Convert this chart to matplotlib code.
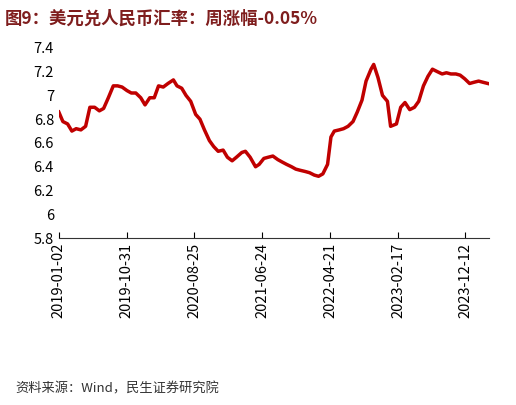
import matplotlib
matplotlib.use("Agg")
import matplotlib.pyplot as plt
import matplotlib.dates as mdates
import pandas as pd

plt.rcParams['font.family'] = ['Noto Sans CJK SC', 'DejaVu Sans']

dates = ["2019-01-02","2019-01-20","2019-02-10","2019-03-01","2019-03-20","2019-04-10","2019-05-01","2019-05-20","2019-06-10","2019-07-01","2019-07-20","2019-08-10","2019-09-01","2019-09-20","2019-10-10","2019-11-01","2019-11-20","2019-12-10","2020-01-01","2020-01-20","2020-02-10","2020-03-01","2020-03-20","2020-04-10","2020-05-01","2020-05-25","2020-06-10","2020-07-01","2020-07-20","2020-08-10","2020-09-01","2020-09-20","2020-10-10","2020-11-01","2020-11-20","2020-12-10","2021-01-01","2021-01-20","2021-02-10","2021-03-01","2021-03-25","2021-04-10","2021-05-01","2021-05-25","2021-06-10","2021-07-01","2021-07-20","2021-08-10","2021-09-01","2021-09-20","2021-10-10","2021-11-01","2021-11-20","2021-12-10","2022-01-01","2022-01-20","2022-02-10","2022-03-01","2022-03-20","2022-04-10","2022-04-25","2022-05-10","2022-06-01","2022-06-20","2022-07-10","2022-08-01","2022-08-20","2022-09-10","2022-09-28","2022-10-20","2022-11-01","2022-11-20","2022-12-10","2023-01-01","2023-01-15","2023-02-10","2023-03-01","2023-03-20","2023-04-10","2023-05-01","2023-05-20","2023-06-10","2023-06-30","2023-07-20","2023-08-10","2023-09-01","2023-09-20","2023-10-10","2023-11-01","2023-11-20","2023-12-10","2024-01-01","2024-01-20","2024-02-10","2024-03-01","2024-03-22"]
values = [6.86,6.78,6.76,6.70,6.72,6.71,6.74,6.90,6.90,6.87,6.89,6.98,7.08,7.08,7.07,7.04,7.02,7.02,6.98,6.92,6.98,6.98,7.08,7.07,7.10,7.13,7.08,7.06,7.00,6.95,6.84,6.80,6.71,6.62,6.57,6.53,6.54,6.48,6.45,6.48,6.52,6.53,6.48,6.40,6.42,6.47,6.48,6.49,6.46,6.44,6.42,6.40,6.38,6.37,6.36,6.35,6.33,6.32,6.34,6.42,6.65,6.70,6.71,6.72,6.74,6.78,6.86,6.96,7.12,7.22,7.26,7.15,7.00,6.95,6.74,6.76,6.90,6.94,6.88,6.90,6.95,7.08,7.16,7.22,7.20,7.18,7.19,7.18,7.18,7.17,7.14,7.10,7.11,7.12,7.11,7.10]
xtick_labels = ["2019-01-02","2019-10-31","2020-08-25","2021-06-24","2022-04-21","2023-02-17","2023-12-12"]
yticks = [5.8,6,6.2,6.4,6.6,6.8,7,7.2,7.4]

x = pd.to_datetime(dates)
fig = plt.figure(figsize=(5.16,4.05), dpi=100)
ax = fig.add_axes([0.114, 0.412, 0.834, 0.47])
ax.plot(x, values, color='#C00000', lw=2.5)
ax.set_ylim(5.8, 7.4)
ax.set_yticks(yticks)
ax.set_yticklabels([f"{v:g}" for v in yticks], fontsize=10.5)
ax.set_xlim(pd.Timestamp("2019-01-02"), pd.Timestamp("2024-03-28"))
ax.set_xticks(pd.to_datetime(xtick_labels))
ax.set_xticklabels(xtick_labels, rotation=90, fontsize=10.5)
for s in ['top','right','left']:
    ax.spines[s].set_visible(False)
ax.spines['bottom'].set_color('#333333')
ax.tick_params(axis='y', length=0)
ax.tick_params(axis='x', direction='in', length=4)
fig.text(0.01, 0.955, "图9：美元兑人民币汇率：周涨幅-0.05%", fontsize=12.5, fontweight='bold', color='#7F1D1D', va='center')
fig.text(0.03, 0.03, "资料来源：Wind，民生证券研究院", fontsize=9.5, color='#333333')
fig.savefig("out.png", dpi=100)
